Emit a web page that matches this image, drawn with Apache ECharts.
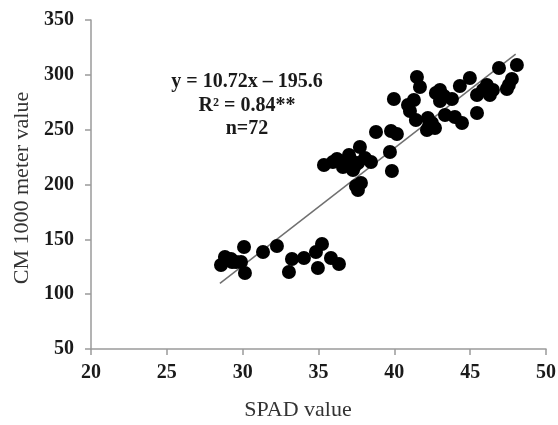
<!DOCTYPE html>
<html>
<head>
<meta charset="utf-8">
<script src="https://cdn.jsdelivr.net/npm/echarts@6/dist/echarts.min.js"></script>
<style>
  html, body { margin: 0; padding: 0; background: #fff; }
  #chart { width: 558px; height: 425px; }
</style>
</head>
<body>
<div id="chart"></div>
<script>
// SPAD readings (x) and CM 1000 readings (y)
var spad = [
  28.57, 28.83, 29.23, 29.30, 29.56, 29.89, 30.09, 30.15, 31.34, 32.26,
  33.05, 33.25, 34.04, 34.83, 34.96, 35.23, 35.82, 36.35,
  35.36, 35.95, 36.22, 36.61, 36.74, 37.01, 37.14, 37.27, 37.34, 37.47,
  37.60, 37.60, 37.73, 37.80, 38.06, 38.46, 38.79, 39.71, 39.78, 39.84, 40.17,
  39.97, 40.90, 41.03, 41.29, 41.42, 41.49, 41.69, 42.15, 42.21, 42.28,
  42.48, 42.68, 42.74, 43.01, 43.01, 43.27, 43.34, 43.80, 43.99, 44.32,
  44.46, 44.98, 45.45, 45.45, 45.84, 46.10, 46.30, 46.50, 46.90, 47.42,
  47.55, 47.75, 48.08
];
var cm1000 = [
  126.6, 133.9, 132.1, 129.3, 129.3, 129.3, 143.0, 119.3, 138.4, 143.9,
  120.2, 132.1, 133.0, 138.4, 123.9, 145.7, 133.0, 127.5,
  217.8, 220.5, 223.2, 216.0, 219.6, 226.9, 222.3, 213.2, 216.0, 198.6,
  219.6, 195.0, 234.2, 201.4, 224.2, 220.5, 247.9, 229.6, 248.8, 212.3, 246.0,
  278.0, 272.5, 267.0, 277.0, 258.8, 298.0, 288.9, 249.7, 260.6, 253.3,
  256.1, 251.5, 283.4, 286.2, 276.1, 280.7, 263.4, 278.0, 261.5, 289.8,
  256.1, 297.1, 281.6, 265.2, 286.2, 290.7, 281.6, 286.2, 306.2, 287.1,
  290.7, 296.2, 309.0
];

// regression line from the figure: y = 10.72x - 195.6
var slope = 10.72;
var intercept = -195.6;
var fitRange = [28.5, 48];

var xTicks = [20, 25, 30, 35, 40, 45, 50];
var yTicks = [50, 100, 150, 200, 250, 300, 350];

var noteLines = ['y = 10.72x \u2013 195.6', 'R\u00b2 = 0.84**', 'n=72'];

var points = [];
for (var i = 0; i < spad.length; i++) {
  points.push([spad[i], cm1000[i]]);
}
var fitLine = [];
for (var j = 0; j < fitRange.length; j++) {
  fitLine.push([fitRange[j], slope * fitRange[j] + intercept]);
}

var myChart = echarts.init(document.getElementById('chart'), null, { renderer: 'canvas' });

var axisColor = '#9a9a9a';
var labelStyle = {
  color: '#1a1a1a',
  fontFamily: 'Liberation Serif',
  fontWeight: 'bold',
  fontSize: 20
};

var noteGraphics = [];
for (var k = 0; k < noteLines.length; k++) {
  noteGraphics.push({
    type: 'text',
    x: 247,
    y: 82 + k * 23.5,
    style: {
      text: noteLines[k],
      fill: '#1a1a1a',
      font: 'bold 20px "Liberation Serif"',
      textAlign: 'center',
      textVerticalAlign: 'middle'
    }
  });
}

var option = {
  animation: false,
  backgroundColor: '#fff',
  grid: {
    left: 91,
    right: 12,
    top: 20,
    bottom: 76,
    containLabel: false,
    outerBoundsMode: 'none'
  },
  xAxis: {
    type: 'value',
    min: xTicks[0],
    max: xTicks[xTicks.length - 1],
    interval: 5,
    axisLine: { lineStyle: { color: axisColor, width: 1.5 } },
    axisTick: { show: true, length: 6, lineStyle: { color: axisColor, width: 1.5 } },
    axisLabel: Object.assign({ margin: 14 }, labelStyle),
    splitLine: { show: false }
  },
  yAxis: {
    type: 'value',
    min: yTicks[0],
    max: yTicks[yTicks.length - 1],
    interval: 50,
    axisLine: { show: true, lineStyle: { color: axisColor, width: 1.5 } },
    axisTick: { show: true, length: 6, lineStyle: { color: axisColor, width: 1.5 } },
    axisLabel: Object.assign({ margin: 17 }, labelStyle),
    splitLine: { show: false }
  },
  graphic: noteGraphics.concat([
    {
      type: 'text',
      x: 298,
      y: 410,
      style: {
        text: 'SPAD value',
        fill: '#333',
        font: '22px "Liberation Serif"',
        textAlign: 'center',
        textVerticalAlign: 'middle'
      }
    },
    {
      type: 'text',
      x: 22,
      y: 188,
      rotation: Math.PI / 2,
      style: {
        text: 'CM 1000 meter value',
        fill: '#333',
        font: '22px "Liberation Serif"',
        textAlign: 'center',
        textVerticalAlign: 'middle'
      }
    }
  ]),
  series: [
    {
      name: 'fit',
      type: 'line',
      data: fitLine,
      symbol: 'none',
      lineStyle: { color: '#707070', width: 1.5 },
      z: 1
    },
    {
      name: 'points',
      type: 'scatter',
      data: points,
      symbol: 'circle',
      symbolSize: 14,
      itemStyle: { color: '#000', opacity: 1 },
      z: 2
    }
  ]
};

myChart.setOption(option);
</script>
</body>
</html>
